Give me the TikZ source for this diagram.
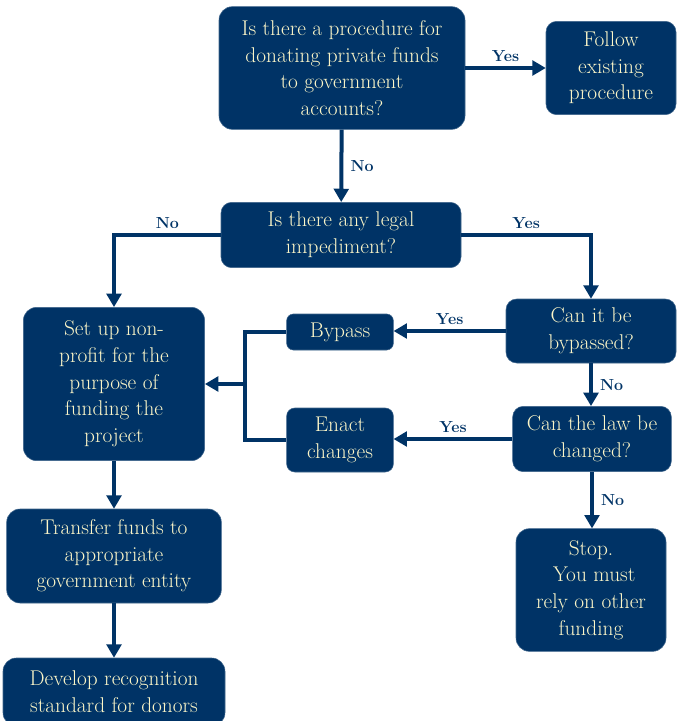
\documentclass[tikz,border=0pt]{standalone}
\usepackage{fontspec}
\usetikzlibrary{arrows.meta,positioning}
\definecolor{fcNavy}{RGB}{0,51,102}
\definecolor{fcCream}{RGB}{252,246,200}
\tikzset{
  fcbox/.style={draw=fcNavy!75!white,fill=fcNavy,rounded corners=#1,
                text=fcCream,font=\fontsize{16}{20}\selectfont,
                align=center,inner sep=2pt},
  fcbox/.default=10pt,
  fcarrow/.style={-{Triangle[length=10pt,width=11pt]},line width=3pt,fcNavy},
  fcline/.style={line width=3pt,fcNavy},
  fclabel/.style={font=\bfseries\fontsize{12}{14}\selectfont,text=fcNavy},
}

\begin{document}
\begin{tikzpicture}[x=0.75pt,y=-0.75pt]

\useasboundingbox (0,0) rectangle (676,721);

% ---------------------------------------------------------------
% questions and outcomes
% ---------------------------------------------------------------
\node[fcbox, minimum width=184.5pt, minimum height=92pt]        (proc)   at (342,68)
      {Is there a procedure for\\donating private funds\\to government\\accounts?};
\node[fcbox=8pt, minimum width=97.5pt, minimum height=70pt]     (follow) at (611,68)
      {Follow\\existing\\procedure};
\node[fcbox=8pt, minimum width=180pt, minimum height=49pt]      (legal)  at (341,235)
      {Is there any legal\\impediment?};
\node[fcbox, minimum width=136pt, minimum height=115pt]         (nonprof) at (114,384)
      {Set up non-\\profit for the\\purpose of\\funding the\\project};
\node[fcbox=5pt, minimum width=80pt, minimum height=27pt]       (bypass) at (340,332)
      {Bypass};
\node[fcbox=8pt, minimum width=127.5pt, minimum height=48pt]    (canby)  at (591,331)
      {Can it be\\bypassed?};
\node[fcbox=6pt, minimum width=80pt, minimum height=48pt]       (enact)  at (340,440)
      {Enact\\changes};
\node[fcbox=8pt, minimum width=119pt, minimum height=49pt]      (canlaw) at (592,439)
      {Can the law be\\changed?};
\node[fcbox, minimum width=112.5pt, minimum height=92pt]        (stop)   at (591,590)
      {Stop.\\~You must\\rely on other\\funding};
\node[fcbox, minimum width=161pt, minimum height=70.5pt]        (transfer) at (114,556)
      {Transfer funds to\\appropriate\\government entity};
\node[fcbox, minimum width=166.5pt, minimum height=51pt]        (develop) at (114,692)
      {Develop recognition\\standard for donors};

\coordinate (join) at (245,384);

% ---------------------------------------------------------------
% connectors
% ---------------------------------------------------------------
\draw[fcarrow] (proc) -- node[fclabel, above] (l1) {Yes} (follow);
\draw[fcarrow] (proc) -- node[fclabel, right=2pt] (l2) {No} (legal);
\draw[fcarrow] (legal.west) -| node[fclabel, above, pos=0.25] (l3) {No} (nonprof.north);
\draw[fcarrow] (legal.east) -| node[fclabel, above, pos=0.25] (l4) {Yes} (canby.north);
\draw[fcarrow] (canby.west) -- node[fclabel, above] (l5) {Yes} (canby.west -| bypass.east);
\draw[fcarrow] (canby.south) -- node[fclabel, right=2pt] (l6) {No} (canby.south |- canlaw.north);
\draw[fcarrow] (canlaw.west) -- node[fclabel, above] (l7) {Yes} (canlaw.west -| enact.east);
\draw[fcarrow] (canlaw.south) -- node[fclabel, right=2pt] (l8) {No} (canlaw.south |- stop.north);

% bypass / enact merge back into the non-profit box
\draw[fcline] (bypass.west) -| (join) |- (enact.west);
\draw[fcarrow] (join) -- (nonprof.east);

\draw[fcarrow] (nonprof) -- (transfer);
\draw[fcarrow] (transfer) -- (develop);

\end{tikzpicture}
\end{document}
